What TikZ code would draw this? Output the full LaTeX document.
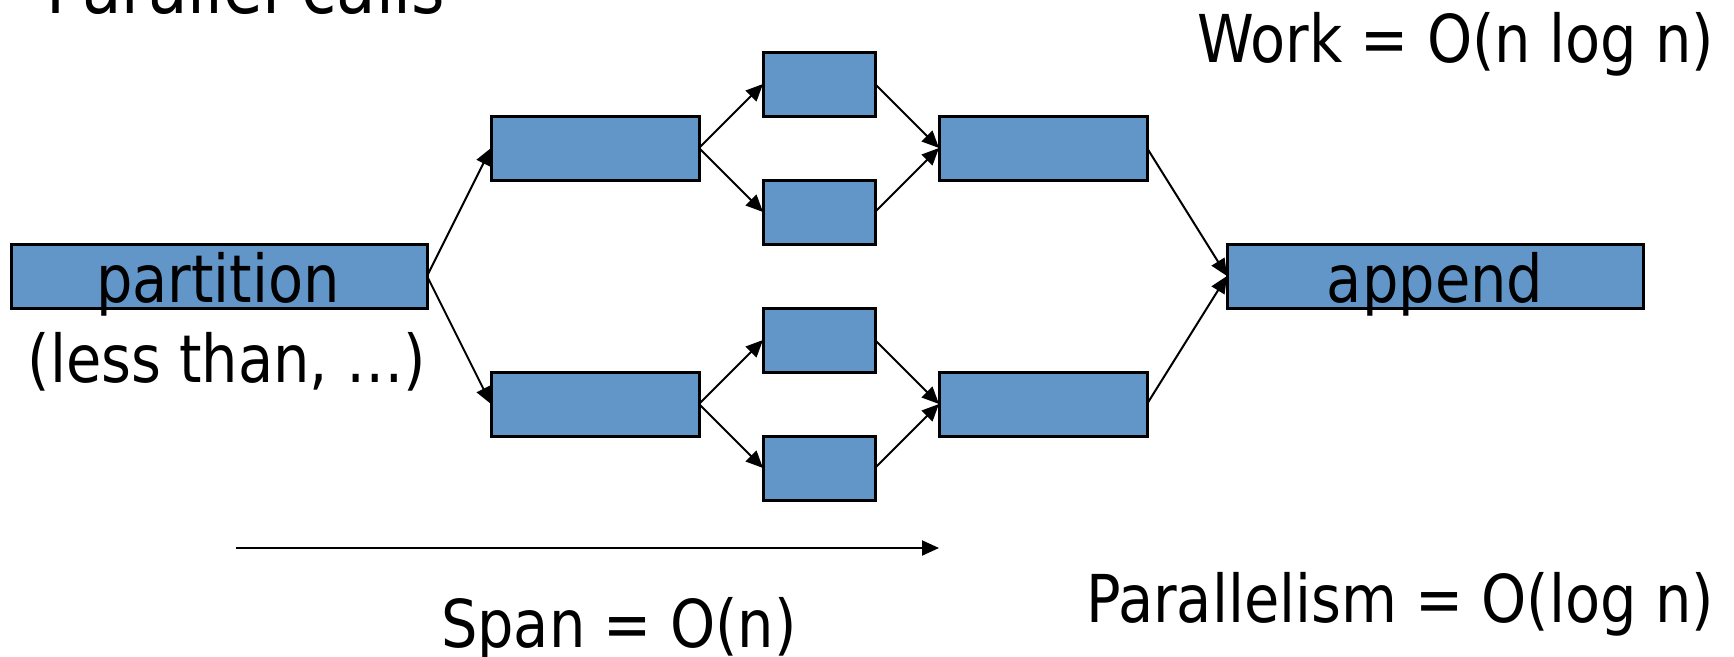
\documentclass[tikz,border=0pt]{standalone}
\usepackage{fontspec}
\setmainfont{DejaVu Sans}[FakeStretch=0.87]
\usetikzlibrary{arrows.meta}
\definecolor{boxblue}{RGB}{98,150,200}
\tikzset{
  blk/.style={draw=black, line width=3pt, fill=boxblue, inner sep=0pt, outer sep=0pt},
  conn/.style={line width=2pt, -{Triangle[length=17pt,width=15pt]}},
  txt/.style={inner sep=0pt, outer sep=0pt, font=\fontsize{66}{79}\selectfont},
}
\begin{document}
\begin{tikzpicture}[x=1pt, y=-1pt]
\useasboundingbox (0,0) rectangle (1734,656);
\clip (0,0) rectangle (1734,656);

% first level: partition step
\node[blk, minimum width=416pt, minimum height=64pt] (part) at (219,276) {};
% two recursive calls
\node[blk, minimum width=208pt, minimum height=64pt] (a1) at (595,148) {};
\node[blk, minimum width=208pt, minimum height=64pt] (a2) at (595,404) {};
% four nested calls
\node[blk, minimum width=112pt, minimum height=64pt] (s1) at (819,84) {};
\node[blk, minimum width=112pt, minimum height=64pt] (s2) at (819,212) {};
\node[blk, minimum width=112pt, minimum height=64pt] (s3) at (819,340) {};
\node[blk, minimum width=112pt, minimum height=64pt] (s4) at (819,468) {};
% joins
\node[blk, minimum width=208pt, minimum height=64pt] (b1) at (1043,148) {};
\node[blk, minimum width=208pt, minimum height=64pt] (b2) at (1043,404) {};
% final append
\node[blk, minimum width=416pt, minimum height=64pt] (app) at (1435,276) {};

% texts
\node[txt, anchor=base] (tpart) at (218,302) {partition};
\node[txt, anchor=base] (tless) at (227,382) {(less than, …)};
\node[txt, anchor=base] (tapp) at (1435,302) {append};
\node[txt, anchor=base west] (twork) at (1197,62) {Work = O(n log n)};
\node[txt, anchor=base west] (tpar) at (1086,622) {Parallelism = O(log n)};
\node[txt, anchor=base west] (tspan) at (441,647) {Span = O(n)};
\node[inner sep=0pt, anchor=base west, font=\fontsize{74}{88}\selectfont] (ttitle) at (46,13) {Parallel calls};

% connectors
\draw[conn] (part.east) -- (a1.west);
\draw[conn] (part.east) -- (a2.west);
\draw[conn] (a1.east) -- (s1.west);
\draw[conn] (a1.east) -- (s2.west);
\draw[conn] (a2.east) -- (s3.west);
\draw[conn] (a2.east) -- (s4.west);
\draw[conn] (s1.east) -- (b1.west);
\draw[conn] (s2.east) -- (b1.west);
\draw[conn] (s3.east) -- (b2.west);
\draw[conn] (s4.east) -- (b2.west);
\draw[conn] (b1.east) -- (app.west);
\draw[conn] (b2.east) -- (app.west);

% span axis
\coordinate (sp0) at (236,548);
\coordinate (sp1) at (939,548);
\draw[conn] (sp0) -- (sp1);
\end{tikzpicture}
\end{document}
